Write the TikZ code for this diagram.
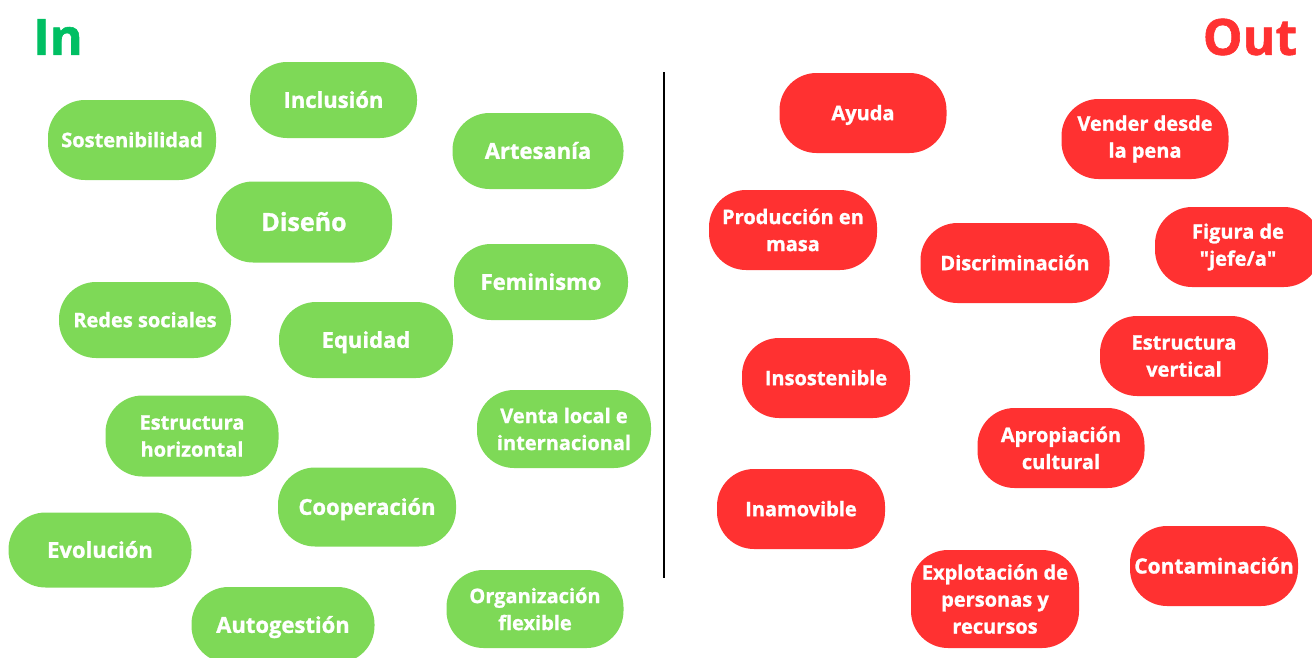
\documentclass[tikz,border=0pt]{standalone}
\usepackage{fontspec}
\setmainfont{Open Sans}[BoldFeatures={FakeBold=1.2}]
\newfontfamily\qfont{Open Sans}[BoldFeatures={FakeBold=1.2}]
\newcommand{\dq}{{\qfont\bfseries"}}
\definecolor{gfill}{HTML}{7ED957}
\definecolor{rfill}{HTML}{FF3131}
\definecolor{intitle}{HTML}{00BF63}
\tikzset{
  pill/.style={rounded corners=37pt, inner sep=0pt, text=white, align=center,
    font=\bfseries\fontsize{20}{27}\selectfont, minimum width=168pt, minimum height=80pt},
  gbox/.style={pill, fill=gfill},
  rbox/.style={pill, fill=rfill},
  big/.style={font=\bfseries\fontsize{22}{27}\selectfont},
  one/.style={text height=#1, text depth=0pt},
  title/.style={font=\bfseries\fontsize{50}{50}\selectfont, inner sep=0pt}
}
\begin{document}
\begin{tikzpicture}[x=1pt,y=-1pt]
\useasboundingbox (0,0) rectangle (1312,657);
\clip (0,0) rectangle (1312,657);
% titles
\node[title, text=intitle] (tin) at (58,37) {In};
\node[title, text=rfill] (tout) at (1250,37) {Out};
% divider
\coordinate (dtop) at (664,72);
\coordinate (dbot) at (664,578);
\draw[line width=2pt] (dtop) -- (dbot);
% green
\node[gbox, one=14.3pt, minimum width=168pt, minimum height=80pt] (g1) at (132,140) {Sostenibilidad};
\node[gbox, big, one=15.7pt, minimum width=167pt, minimum height=76pt] (g2) at (333.5,100) {Inclusión};
\node[gbox, big, one=15.7pt, minimum width=171pt, minimum height=76pt] (g3) at (538,151) {Artesanía};
\node[gbox, font=\bfseries\fontsize{25}{27}\selectfont, one=17.9pt, minimum width=176pt, minimum height=81pt] (g4) at (304,222) {Diseño};
\node[gbox, big, one=15.7pt, minimum width=174pt, minimum height=76pt] (g5) at (541,282) {Feminismo};
\node[gbox, one=14.3pt, minimum width=172pt, minimum height=76pt] (g6) at (145,320) {Redes sociales};
\node[gbox, big, one=15.7pt, minimum width=174pt, minimum height=76pt] (g7) at (366,340) {Equidad};
\node[gbox, minimum width=173pt, minimum height=81pt] (g8) at (192,436) {Estructura\\horizontal};
\node[gbox, minimum width=174pt, minimum height=78pt] (g9) at (564,429) {Venta local e\\internacional};
\node[gbox, big, one=15.7pt, minimum width=178pt, minimum height=79pt] (g10) at (367,507) {Cooperación};
\node[gbox, big, one=15.7pt, minimum width=183pt, minimum height=75pt] (g11) at (100,550) {Evolución};
\node[gbox, big, one=15.7pt, minimum width=183pt, minimum height=76pt] (g12) at (283,625) {Autogestión};
\node[gbox, minimum width=177pt, minimum height=78pt] (g13) at (535,609) {Organización\\flexible};
% red
\node[rbox, one=14.3pt, minimum width=167pt] (r1) at (863,113) {Ayuda};
\node[rbox, minimum width=167pt] (r2) at (1145,139) {Vender desde\\la pena};
\node[rbox] (r3) at (793,230) {Producción en\\masa};
\node[rbox, one=14.3pt, minimum width=189pt] (r4) at (1015,263) {Discriminación};
\node[rbox, minimum width=166pt] (r5) at (1238,247) {Figura de\\\dq jefe/a\dq};
\node[rbox] (r6) at (1184,356) {Estructura\\vertical};
\node[rbox, one=14.3pt] (r7) at (826,378) {Insostenible};
\node[rbox, minimum width=167pt] (r8) at (1061,448) {Apropiación\\cultural};
\node[rbox, one=14.3pt] (r9) at (801,509) {Inamovible};
\node[rbox, minimum height=98pt] (r10) at (995,599) {Explotación de\\personas y\\recursos};
\node[rbox, font=\bfseries\fontsize{21}{27}\selectfont, one=15pt] (r11) at (1214,566) {Contaminación};
\end{tikzpicture}
\end{document}
